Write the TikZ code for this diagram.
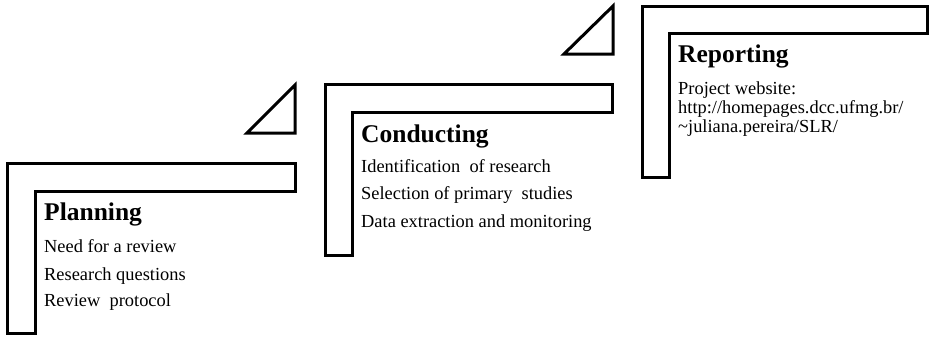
\documentclass[tikz,border=0pt]{standalone}
\usepackage{fontspec}
\setmainfont{Liberation Serif}
\begin{document}
\begin{tikzpicture}[x=1pt,y=-1pt,
  outl/.style={draw=black,line width=3pt,line join=miter,fill=white},
  title/.style={anchor=base west,inner sep=0pt,font=\fontsize{25.5}{27}\selectfont\bfseries},
  body/.style={anchor=base west,inner sep=0pt,font=\fontsize{18.4}{20}\selectfont}]
\useasboundingbox (0,0) rectangle (930,338);
% L shapes
\draw[outl] (7,163) -- (295,163) -- (295,191) -- (35,191) -- (35,333) -- (7,333) -- cycle;
\draw[outl] (325,84) -- (612,84) -- (612,112) -- (352,112) -- (352,255) -- (325,255) -- cycle;
\draw[outl] (642,6) -- (927,6) -- (927,33) -- (669,33) -- (669,177) -- (642,177) -- cycle;
% triangles
\draw[outl] (295,85) -- (295,133) -- (247,133) -- cycle;
\draw[outl] (613,6) -- (613,54) -- (564,54) -- cycle;
% texts
\node[title] (p) at (44,220) {Planning};
\node[body] (p1) at (44,252) {Need for a review};
\node[body] (p2) at (44,280) {Research questions};
\node[body] (p3) at (44,306) {Review\ \ protocol};
\node[title] (c) at (361,142) {Conducting};
\node[body] (c1) at (361,172) {Identification\ \ of research};
\node[body] (c2) at (361,199) {Selection of primary\ \ studies};
\node[body] (c3) at (361,227) {Data extraction and monitoring};
\node[title] (r) at (678,62) {Reporting};
\node[body] (r1) at (678,94) {Project website:};
\node[body] (r2) at (678,113) {http://homepages.dcc.ufmg.br/};
\node[body] (r3) at (678,132) {\textasciitilde juliana.pereira/SLR/};
\end{tikzpicture}
\end{document}
